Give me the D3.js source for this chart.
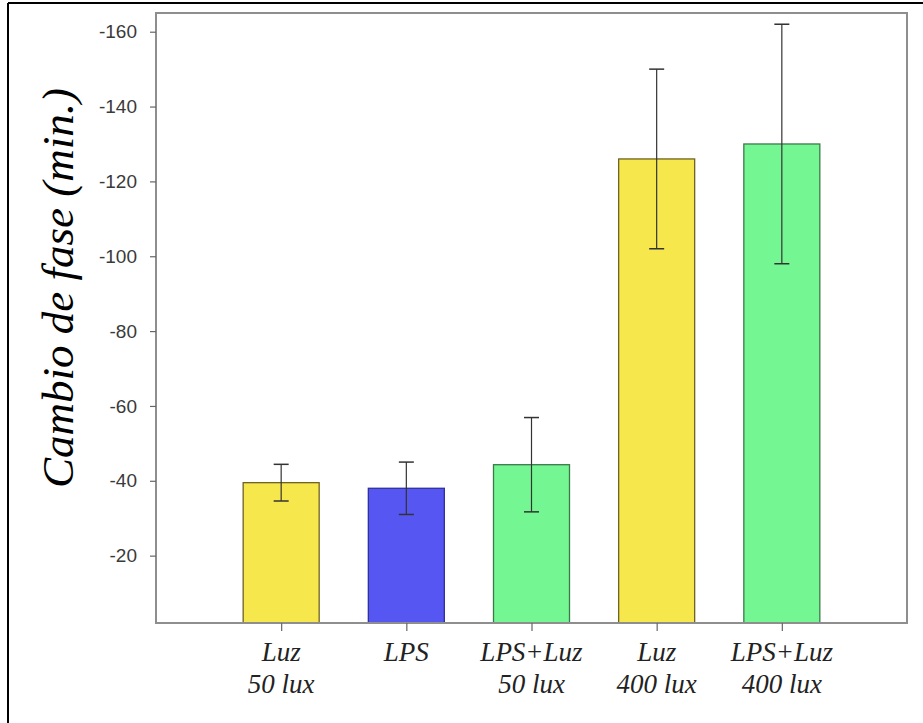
<!DOCTYPE html>
<html>
<head>
<meta charset="utf-8">
<script src="https://cdn.jsdelivr.net/npm/d3@7"></script>
<style>
  html, body { margin: 0; padding: 0; background: #fff; }
  svg { display: block; }
</style>
</head>
<body>
<svg id="chart" width="923" height="723"></svg>
<script>
// Phase shift (minutes) per treatment group
const categories = ["Luz|50 lux", "LPS", "LPS+Luz|50 lux", "Luz|400 lux", "LPS+Luz|400 lux"];
const means = [-39.5, -38, -44.3, -126, -130];
const errors = [4.9, 7, 12.6, 24, 32];
const groups = ["luz", "lps", "mix", "luz", "mix"];
const yTicks = [-20, -40, -60, -80, -100, -120, -140, -160];
const yTitle = "Cambio de fase (min.)";

const fills = { luz: "#f6e84c", lps: "#5656f2", mix: "#74f792" };
const strokes = { luz: "#6e6224", lps: "#30309a", mix: "#3a7a4a" };

const svg = d3.select("#chart");
const plotL = 156, plotR = 907, plotT = 13, plotB = 623;

const x = d3.scalePoint().domain(categories).range([plotL, plotR]).padding(1);
const y = d3.scaleLinear().domain([-2, -165]).range([plotB, plotT]);
const barW = 76;

// outer frame lines (top and left)
svg.append("line").attr("x1", 8).attr("x2", 923).attr("y1", 3).attr("y2", 3)
  .attr("stroke", "#000").attr("stroke-width", 2);
svg.append("line").attr("x1", 8).attr("x2", 8).attr("y1", 3).attr("y2", 723)
  .attr("stroke", "#000").attr("stroke-width", 2);

// bars
svg.selectAll("rect.bar").data(categories).join("rect")
  .attr("class", "bar")
  .attr("x", (d) => x(d) - barW / 2)
  .attr("width", barW)
  .attr("y", (d, i) => y(means[i]))
  .attr("height", (d, i) => y(-2) - y(means[i]))
  .attr("fill", (d, i) => fills[groups[i]])
  .attr("stroke", (d, i) => strokes[groups[i]])
  .attr("stroke-width", 1.3);

// error bars
const eb = svg.selectAll("g.err").data(categories).join("g").attr("class", "err");
const capW = 15;
eb.append("line")
  .attr("x1", (d) => x(d)).attr("x2", (d) => x(d))
  .attr("y1", (d, i) => y(means[i] - errors[i]))
  .attr("y2", (d, i) => y(means[i] + errors[i]))
  .attr("stroke", "#333").attr("stroke-width", 1.2);
eb.append("line")
  .attr("x1", (d) => x(d) - capW / 2).attr("x2", (d) => x(d) + capW / 2)
  .attr("y1", (d, i) => y(means[i] - errors[i]))
  .attr("y2", (d, i) => y(means[i] - errors[i]))
  .attr("stroke", "#333").attr("stroke-width", 1.5);
eb.append("line")
  .attr("x1", (d) => x(d) - capW / 2).attr("x2", (d) => x(d) + capW / 2)
  .attr("y1", (d, i) => y(means[i] + errors[i]))
  .attr("y2", (d, i) => y(means[i] + errors[i]))
  .attr("stroke", "#333").attr("stroke-width", 1.5);

// plot frame
const frameColor = "#8e8e8e";
svg.append("rect")
  .attr("x", plotL).attr("y", plotT)
  .attr("width", plotR - plotL).attr("height", plotB - plotT)
  .attr("fill", "none").attr("stroke", frameColor).attr("stroke-width", 2);

// y axis
const yAxis = svg.append("g")
  .attr("transform", `translate(${plotL},0)`)
  .call(d3.axisLeft(y).tickValues(yTicks).tickSize(6).tickPadding(13).tickFormat((d) => String(d)));
yAxis.select(".domain").remove();
yAxis.selectAll(".tick line").attr("stroke", "#666").attr("stroke-width", 1.2);
yAxis.selectAll(".tick text")
  .attr("fill", "#3a3a3a")
  .style("font-family", "'Liberation Sans', Arial, sans-serif")
  .style("font-size", "19px");

// x axis
const xAxis = svg.append("g")
  .attr("transform", `translate(0,${plotB})`)
  .call(d3.axisBottom(x).tickSize(8).tickFormat(""));
xAxis.select(".domain").remove();
xAxis.selectAll(".tick line").attr("stroke", "#666").attr("stroke-width", 1.2);

// category labels, two lines each
const labels = svg.selectAll("text.cat").data(categories).join("text")
  .attr("class", "cat")
  .attr("text-anchor", "middle")
  .attr("fill", "#222")
  .style("font-family", "'Liberation Serif', 'Times New Roman', serif")
  .style("font-style", "italic")
  .style("font-size", "27px");
labels.each(function (d) {
  const parts = d.split("|");
  const t = d3.select(this);
  parts.forEach((p, j) => {
    t.append("tspan").attr("x", x(d)).attr("y", 661 + j * 32).text(p);
  });
});

// y axis title
svg.append("text")
  .attr("transform", "translate(73,288) rotate(-90)")
  .attr("text-anchor", "middle")
  .attr("fill", "#000")
  .style("font-family", "'Liberation Serif', 'Times New Roman', serif")
  .style("font-style", "italic")
  .style("font-size", "45px")
  .text(yTitle);
</script>
</body>
</html>
